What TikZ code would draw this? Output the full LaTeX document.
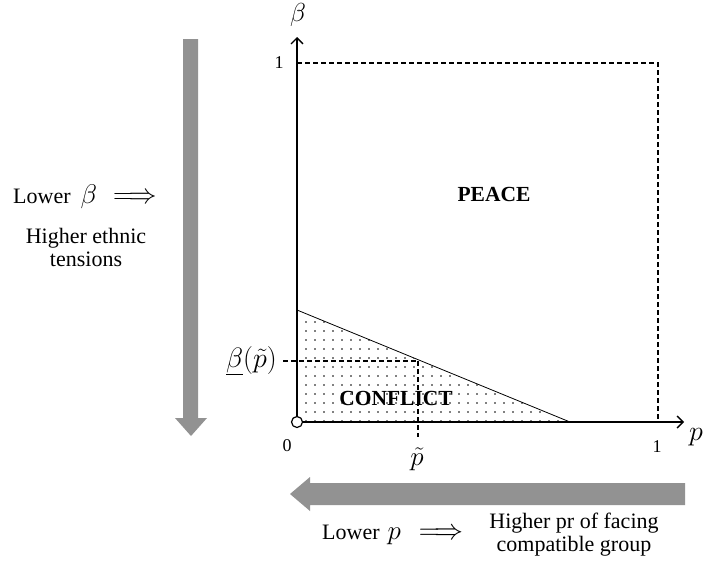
\RequirePackage{fix-cm}
\documentclass[tikz,border=0pt]{standalone}
\usepackage{fontspec}
\setmainfont{Liberation Serif}
\usetikzlibrary{arrows.meta,patterns.meta}

\definecolor{arrowgray}{RGB}{146,146,146}

\begin{document}
\begin{tikzpicture}[
  x=1pt, y=-1pt,
  axis/.style={line width=1.6pt, -{Straight Barb[length=6pt,width=12pt,line width=1.4pt]}},
  guide/.style={line width=1.4pt, dash pattern=on 5pt off 3pt},
  bigarrow/.style={fill=arrowgray, draw=none},
  lbl/.style={inner sep=0pt, font=\fontsize{22}{23}\selectfont, align=center},
  num/.style={inner sep=0pt, font=\fontsize{18}{20}\selectfont},
  region/.style={inner sep=0pt, font=\bfseries\fontsize{21.5}{23}\selectfont}
]
\useasboundingbox (0,0) rectangle (704,565);

%================================================
% AXES AND REGIONS
%================================================
\coordinate (O)    at (297,422);
\coordinate (Ytop) at (297,37);
\coordinate (Xend) at (684,422);
\coordinate (B1)   at (297,63);
\coordinate (C1)   at (658,63);
\coordinate (P1)   at (658,422);
\coordinate (Bint) at (297,310);
\coordinate (Pint) at (570,422);
\coordinate (K)    at (418,361);
\coordinate (Kl)   at (283,361);
\coordinate (Kb)   at (418,437);

% conflict region
\fill[pattern={Dots[distance=9pt,radius=0.9pt]}] (O) -- (Bint) -- (Pint) -- cycle;
\draw[line width=0.8pt] (Bint) -- (Pint);

% dashed frame and threshold
\draw[guide] (B1) -- (C1) -- (P1);
\draw[guide] (Kl) -- (K);
\draw[guide] (K) -- (Kb);

\draw[axis] (O) -- (Ytop);
\draw[axis] (O) -- (Xend);
\draw[fill=white, line width=1.2pt] (O) circle (5.5pt);

% axis labels
\node[lbl, font=\fontsize{26}{28}\selectfont] (beta) at (298,15) {$\beta$};
\node[lbl, font=\fontsize{28}{30}\selectfont] (p) at (696,437) {$p$};
\node[num] (one-y) at (279,63) {1};
\node[num] (zero) at (287,446) {0};
\node[num] (one-x) at (657,447) {1};
\node[lbl, font=\fontsize{27}{29}\selectfont] (ptilde) at (417,459) {$\tilde{p}$};
\node[lbl, font=\fontsize{28}{30}\selectfont, anchor=east] (bptilde) at (277,361) {$\underline{\beta}(\tilde{p})$};

% regions
\node[region] (peace) at (494,194) {PEACE};
\node[region] (conflict) at (396,398) {CONFLICT};

%================================================
% GRAY ARROWS
%================================================
\fill[bigarrow] (183,39) -- (198,39) -- (198,418) -- (207,418) -- (191,436)
  -- (175,418) -- (183,418) -- cycle;
\fill[bigarrow] (685,483) -- (310,483) -- (310,477) -- (290,494) -- (310,511)
  -- (310,505) -- (685,505) -- cycle;

% left texts
\node[lbl, anchor=west] (lowb) at (13,197) {Lower\hspace{10pt}{\fontsize{27}{29}\selectfont$\beta$}\hspace{16pt}{\fontsize{28}{30}\selectfont$\Longrightarrow$}};
\node[lbl] (tension) at (86,247) {Higher ethnic\\tensions};

% bottom texts
\node[lbl, anchor=west] (lowp) at (322,535) {Lower\hspace{8pt}{\fontsize{27}{29}\selectfont$p$}\hspace{18pt}{\fontsize{29}{31}\selectfont$\Longrightarrow$}};
\node[lbl] (facing) at (574,535) {Higher pr of facing\\compatible group};

\end{tikzpicture}
\end{document}
